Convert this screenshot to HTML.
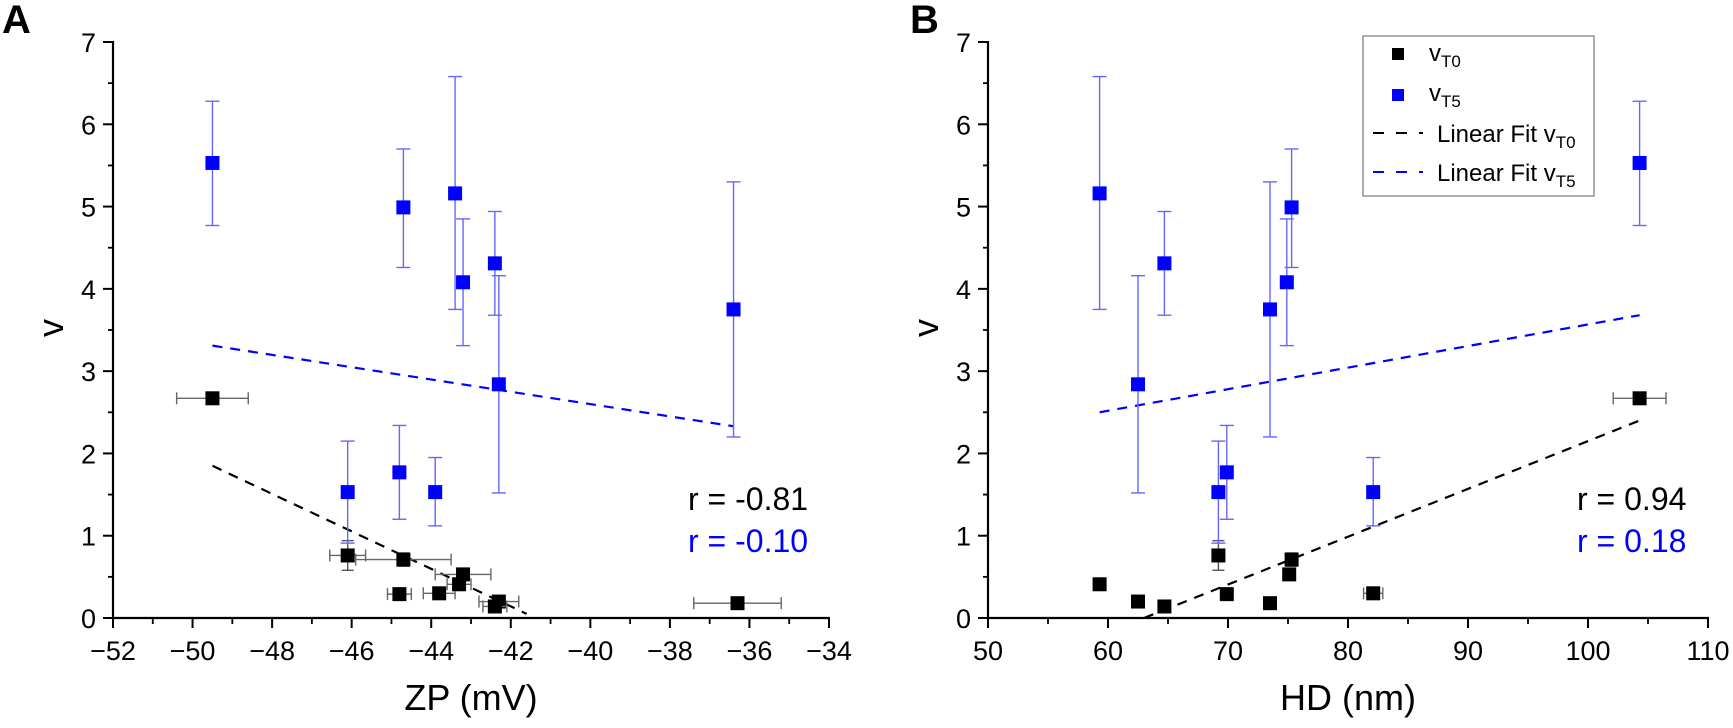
<!DOCTYPE html>
<html><head><meta charset="utf-8"><style>
body{margin:0;background:#fff;}
svg text{font-family:"Liberation Sans",Arial,sans-serif;}
</style></head><body>
<svg id="chart" width="1733" height="723" viewBox="0 0 1733 723" xmlns="http://www.w3.org/2000/svg">
<text x="2" y="33" font-size="40" font-weight="bold">A</text>
<text x="910" y="33" font-size="40" font-weight="bold">B</text>
<g id="pA"></g>
<g id="pB"></g>
<g id="legend">
<rect x="1363" y="36" width="231" height="160" fill="#fff" stroke="#777" stroke-width="1.2"/>
<rect x="1392" y="48" width="12" height="12" fill="#000"/>
<text x="1429" y="61" font-size="24">v<tspan font-size="17" dy="6">T0</tspan></text>
<rect x="1392" y="89" width="12" height="12" fill="#0000ff"/>
<text x="1429" y="101" font-size="24">v<tspan font-size="17" dy="6">T5</tspan></text>
<line x1="1373" y1="133" x2="1423" y2="133" stroke="#000" stroke-width="2" stroke-dasharray="11,12"/>
<text x="1437" y="142" font-size="24">Linear Fit v<tspan font-size="17" dy="6">T0</tspan></text>
<line x1="1373" y1="172" x2="1423" y2="172" stroke="#0000ff" stroke-width="2" stroke-dasharray="11,12"/>
<text x="1437" y="181" font-size="24">Linear Fit v<tspan font-size="17" dy="6">T5</tspan></text>
</g>
</svg>
<script>
// Panel A data (ZP)
const zpT5 = [-49.5,-44.7,-43.4,-43.2,-42.4,-42.3,-36.4,-46.1,-44.8,-43.9];
const vT5 = [5.53,4.99,5.16,4.08,4.31,2.84,3.75,1.53,1.77,1.53];
const vT5Lo = [4.77,4.26,3.75,3.31,3.68,1.52,2.20,0.91,1.20,1.12];
const vT5Hi = [6.28,5.70,6.58,4.85,4.94,4.16,5.30,2.15,2.34,1.95];
const zpT0 = [-49.5,-46.1,-44.7,-44.8,-43.8,-43.3,-43.2,-42.3,-42.4,-36.3];
const vT0A = [2.67,0.76,0.71,0.29,0.30,0.41,0.53,0.20,0.14,0.18];
const zpErr = [0.9,0.45,1.2,0.3,0.4,0.3,0.7,0.5,0.3,1.1];
const vT0Err = [0.03,0.18,0.08,0.03,0.04,0.05,0.05,0.04,0.03,0.03];
const fitAT5 = [[-49.5,3.31],[-36.4,2.33]];
const fitAT0 = [[-49.5,1.85],[-41.6,0.05]];
// Panel B data (HD) — same T5 samples, same order as vT5
const hdT5 = [104.3,75.3,59.3,74.9,64.7,62.5,73.5,69.2,69.9,82.1];
const hdT0 = [59.3,62.5,64.7,69.2,69.9,73.5,75.1,75.3,82.1,104.3];
const vT0B = [0.41,0.20,0.14,0.76,0.29,0.18,0.53,0.71,0.30,2.67];
const hdErr = [0,0,0,0,0,0,0,0,0.8,2.2];
const vT0BErr = [0.05,0.03,0.03,0.18,0.03,0.03,0.05,0.08,0.06,0.03];
const fitBT5 = [[59.3,2.5],[104.3,3.68]];
const fitBT0 = [[63.0,0.0],[104.3,2.4]];
const xTicksA = [-52,-50,-48,-46,-44,-42,-40,-38,-36,-34];
const xTicksB = [50,60,70,80,90,100,110];
const yTicks = [0,1,2,3,4,5,6,7];

const NS="http://www.w3.org/2000/svg";
function mk(parent,tag,attrs){const e=document.createElementNS(NS,tag);for(const k in attrs)e.setAttribute(k,attrs[k]);parent.appendChild(e);return e;}

function panel(g,cfg){
  const X=v=>cfg.x0+(v-cfg.xmin)/(cfg.xmax-cfg.xmin)*(cfg.x1-cfg.x0);
  const Y=v=>618-(v/7)*576;
  let ax=mk(g,'line',{x1:cfg.x0,y1:41,x2:cfg.x0,y2:619,stroke:'#000','stroke-width':2.2});
  
  
  ax=mk(g,'line',{x1:cfg.x0-1,y1:618,x2:cfg.x1+1,y2:618,stroke:'#000','stroke-width':2.2});
  
  
  yTicks.forEach((t,i)=>{
    mk(g,'line',{x1:cfg.x0-10,y1:Y(t),x2:cfg.x0,y2:Y(t),stroke:'#000','stroke-width':2});
    if(i<yTicks.length-1) mk(g,'line',{x1:cfg.x0-5,y1:Y(t+0.5),x2:cfg.x0,y2:Y(t+0.5),stroke:'#000','stroke-width':1.8});
    const tx=mk(g,'text',{x:cfg.x0-17,y:Y(t)+10,'font-size':27,'text-anchor':'end'});
    tx.textContent=t;
    
    
  });
  const xt=cfg.ticks;
  xt.forEach((t,i)=>{
    mk(g,'line',{x1:X(t),y1:618,x2:X(t),y2:628,stroke:'#000','stroke-width':2});
    if(i<xt.length-1){const m=(t+xt[i+1])/2;mk(g,'line',{x1:X(m),y1:618,x2:X(m),y2:624,stroke:'#000','stroke-width':1.8});}
    const tx=mk(g,'text',{x:X(t),y:660,'font-size':27,'text-anchor':'middle'});
    tx.textContent=(t<0?'\u2212'+(-t):t);
    
    
  });
  let tt=mk(g,'text',{x:(cfg.x0+cfg.x1)/2,y:710,'font-size':36,'text-anchor':'middle'});
  tt.textContent=cfg.xtitle;
  
  
  tt=mk(g,'text',{x:0,y:0,'font-size':36,'text-anchor':'middle',transform:`translate(${cfg.x0-50} 328) rotate(-90)`});
  tt.textContent='v';
  
  
  [[cfg.fit5,'#0000ff','fit-line-t5'],[cfg.fit0,'#000','fit-line-t0']].forEach(([f,c,n])=>{
    const l=mk(g,'line',{x1:X(f[0][0]),y1:Y(f[0][1]),x2:X(f[1][0]),y2:Y(f[1][1]),stroke:c,'stroke-width':2.2,'stroke-dasharray':'10,8'});
    
    
  });
  cfg.x0s.forEach((xv,i)=>{
    const cx=X(xv),cy=Y(cfg.v0[i]);const xe=cfg.xe[i],ye=cfg.ye[i];
    if(xe>0){mk(g,'line',{x1:X(xv-xe),y1:cy,x2:X(xv+xe),y2:cy,stroke:'#666','stroke-width':1.4});
      mk(g,'line',{x1:X(xv-xe),y1:cy-6,x2:X(xv-xe),y2:cy+6,stroke:'#666','stroke-width':1.4});
      mk(g,'line',{x1:X(xv+xe),y1:cy-6,x2:X(xv+xe),y2:cy+6,stroke:'#666','stroke-width':1.4});}
    mk(g,'line',{x1:cx,y1:Y(cfg.v0[i]-ye),x2:cx,y2:Y(cfg.v0[i]+ye),stroke:'#555','stroke-width':1.4});
    mk(g,'line',{x1:cx-6,y1:Y(cfg.v0[i]-ye),x2:cx+6,y2:Y(cfg.v0[i]-ye),stroke:'#555','stroke-width':1.4});
    mk(g,'line',{x1:cx-6,y1:Y(cfg.v0[i]+ye),x2:cx+6,y2:Y(cfg.v0[i]+ye),stroke:'#555','stroke-width':1.4});
    const r=mk(g,'rect',{x:cx-7,y:cy-7,width:14,height:14,fill:'#000'});
    
    
  });
  cfg.x5s.forEach((xv,i)=>{
    const cx=X(xv);
    mk(g,'line',{x1:cx,y1:Y(vT5Lo[i]),x2:cx,y2:Y(vT5Hi[i]),stroke:'#6666ff','stroke-width':1.4});
    mk(g,'line',{x1:cx-7,y1:Y(vT5Lo[i]),x2:cx+7,y2:Y(vT5Lo[i]),stroke:'#6666ff','stroke-width':1.4});
    mk(g,'line',{x1:cx-7,y1:Y(vT5Hi[i]),x2:cx+7,y2:Y(vT5Hi[i]),stroke:'#6666ff','stroke-width':1.4});
    const r=mk(g,'rect',{x:cx-7,y:Y(vT5[i])-7,width:14,height:14,fill:'#0000ff'});
    
    
  });
  let t=mk(g,'text',{x:cfg.rx,y:510,'font-size':32});t.textContent=cfg.r0;
  
  
  t=mk(g,'text',{x:cfg.rx,y:552,'font-size':32,fill:'#0000ff'});t.textContent=cfg.r5;
  
  
}
panel(document.getElementById('pA'),{x0:113,x1:829,xmin:-52,xmax:-34,ticks:xTicksA,xtitle:'ZP (mV)',
  fit5:fitAT5,fit0:fitAT0,x0s:zpT0,v0:vT0A,xe:zpErr,ye:vT0Err,x5s:zpT5,rx:688,r0:'r = -0.81',r5:'r = -0.10'});
panel(document.getElementById('pB'),{x0:988,x1:1708,xmin:50,xmax:110,ticks:xTicksB,xtitle:'HD (nm)',
  fit5:fitBT5,fit0:fitBT0,x0s:hdT0,v0:vT0B,xe:hdErr,ye:vT0BErr,x5s:hdT5,rx:1577,r0:'r = 0.94',r5:'r = 0.18'});
</script>
</body></html>
